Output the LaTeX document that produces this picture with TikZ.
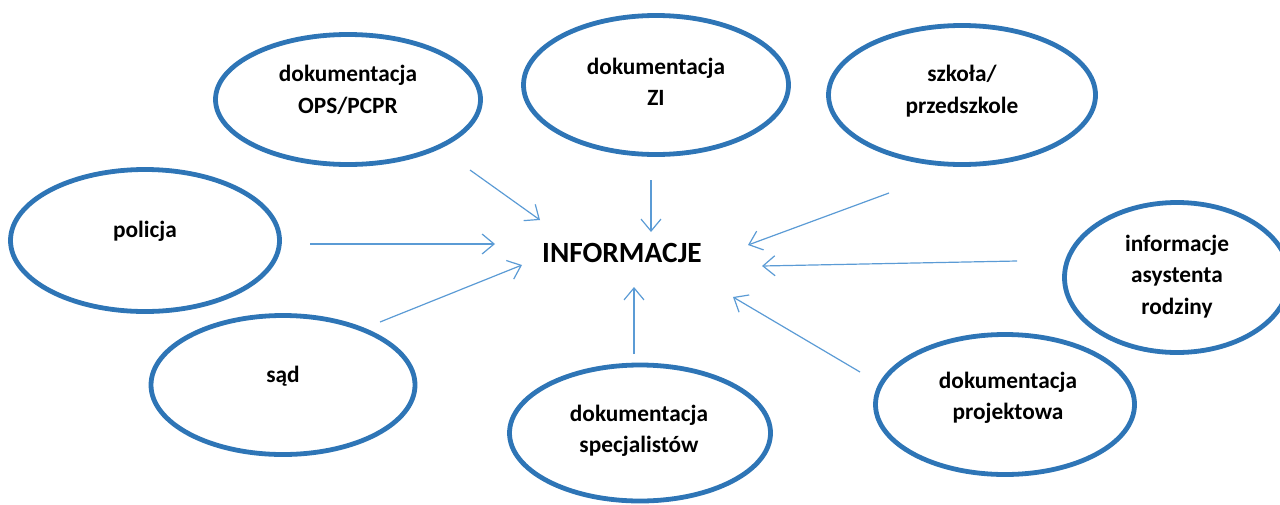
\documentclass[tikz,border=0pt]{standalone}
\usepackage{fontspec}
\setmainfont{Carlito}
\usetikzlibrary{shapes.geometric,arrows.meta}
\definecolor{ringblue}{HTML}{2E75B6}
\definecolor{arrowblue}{HTML}{5B9BD5}

\tikzset{
    source/.style = {draw = ringblue, line width = 3.6pt, ellipse, inner sep = 0pt},
    tag/.style = {align = center, font = \fontsize{17.5}{23.5}\selectfont\bfseries},
    feed/.style = {draw = arrowblue, line width = 0.9pt,
        -{Straight Barb[length = 9pt, width = 15pt, line width = 0.9pt]}}
}

\begin{document}
\begin{tikzpicture}[x = 0.75pt, y = -0.75pt]
        \useasboundingbox (0, 0) rectangle (1280, 504);

        % Ellipses
        \node [source, minimum width = 265pt*0.75, minimum height = 130pt*0.75] (ops) at (348, 99.5) {};
        \node [source, minimum width = 265pt*0.75, minimum height = 139pt*0.75] (zi) at (656, 85) {};
        \node [source, minimum width = 267pt*0.75, minimum height = 139pt*0.75] (szk) at (962, 95) {};
        \node [source, minimum width = 269pt*0.75, minimum height = 142pt*0.75] (pol) at (145, 240.5) {};
        \node [source, minimum width = 225pt*0.75, minimum height = 150pt*0.75] (asy) at (1177, 277.5) {};
        \node [source, minimum width = 264pt*0.75, minimum height = 139pt*0.75] (sad) at (283, 385) {};
        \node [source, minimum width = 261pt*0.75, minimum height = 136pt*0.75] (spe) at (640, 433) {};
        \node [source, minimum width = 259pt*0.75, minimum height = 140pt*0.75] (pro) at (1005, 404.5) {};

        % Texts
        \node [tag] (ops-t) at (348, 90) {dokumentacja\\OPS/PCPR};
        \node [tag] (zi-t) at (656, 81.5) {dokumentacja\\ZI};
        \node [tag] (szk-t) at (962, 91) {szkoła/\\przedszkole};
        \node [tag] (pol-t) at (145, 231.5) {policja};
        \node [tag] (asy-t) at (1177, 276.5) {informacje\\asystenta\\rodziny};
        \node [tag] (sad-t) at (283, 376.5) {sąd};
        \node [tag] (spe-t) at (639, 431) {dokumentacja\\specjalistów};
        \node [tag] (pro-t) at (1008, 398) {dokumentacja\\projektowa};

        \node [font = \fontsize{22}{26}\selectfont\bfseries] (info) at (622, 253) {INFORMACJE};

        % Arrow ends
        \coordinate (ops-s) at (470, 170);  \coordinate (ops-e) at (540, 220);
        \coordinate (zi-s) at (651, 180);   \coordinate (zi-e) at (651, 232);
        \coordinate (szk-s) at (889, 193);  \coordinate (szk-e) at (748, 245);
        \coordinate (pol-s) at (310, 244);  \coordinate (pol-e) at (495, 244);
        \coordinate (asy-s) at (1017, 261); \coordinate (asy-e) at (762, 266);
        \coordinate (sad-s) at (380, 322);  \coordinate (sad-e) at (522, 265);
        \coordinate (spe-s) at (634, 354);  \coordinate (spe-e) at (634, 287);
        \coordinate (pro-s) at (860, 372);  \coordinate (pro-e) at (733, 297);

        % Lines
        \foreach \n in {ops, zi, szk, pol, asy, sad, spe, pro}
            \draw [feed] (\n-s) -- (\n-e);

    \end{tikzpicture}
\end{document}
